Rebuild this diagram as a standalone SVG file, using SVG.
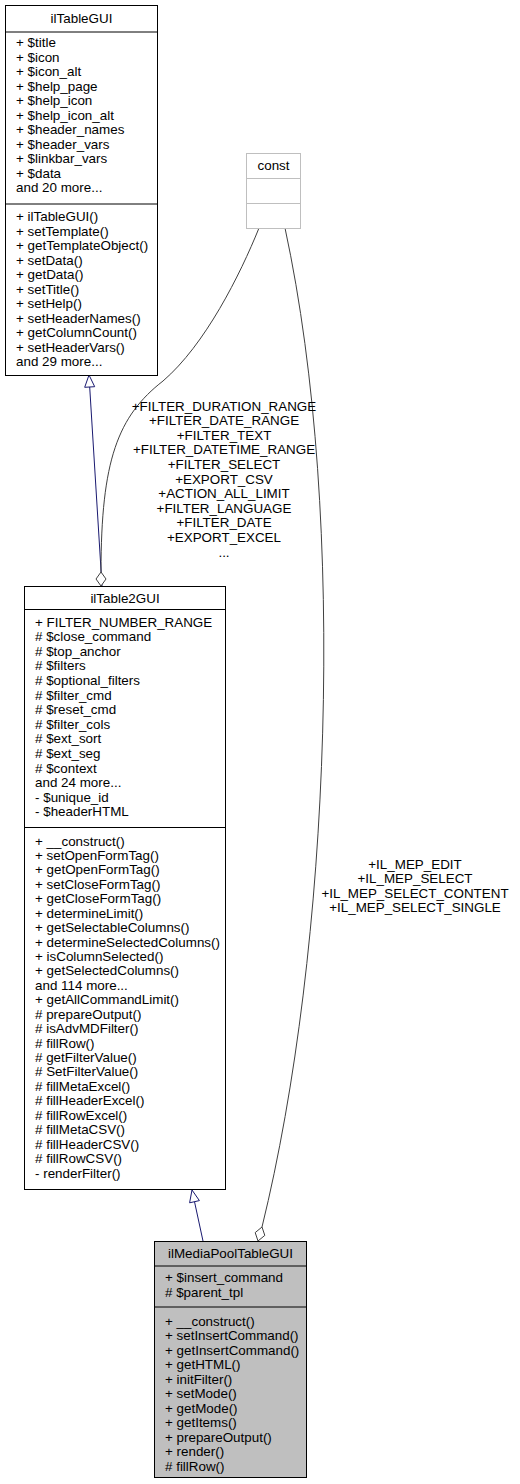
<svg xmlns="http://www.w3.org/2000/svg" width="520" height="1484" viewBox="0 0 520 1484">
<style>
text{font-family:"Liberation Sans",Arial,Helvetica,sans-serif;font-size:13.4px;fill:#000}
.c{text-anchor:middle}
.box{fill:#fff;stroke:#000;stroke-width:1}
.sep{stroke:#000;stroke-width:1}
.cbox{fill:#fff;stroke:#bfbfbf;stroke-width:1}
.csep{stroke:#bfbfbf;stroke-width:1}
.inh{fill:none;stroke:#191970;stroke-width:1}
.inhh{fill:#fff;stroke:#191970;stroke-width:1}
.agg{fill:none;stroke:#404040;stroke-width:1}
.aggh{fill:#fff;stroke:#404040;stroke-width:1}
</style>
<rect width="520" height="1484" fill="#fff"/>
<g id="connectors">
<path class="inh" d="M102,586 L89.7,387"/>
<polygon class="inhh" points="89,375 94.7,386.7 84.7,387.3"/>
<path class="inh" d="M203,1241 L194.5,1201.7"/>
<polygon class="inhh" points="192,1190 199.4,1200.6 189.6,1202.8"/>
<path class="agg" d="M259,228 C240,275 205,345 163,381 C118,416 101,460 101,572"/>
<polygon class="aggh" points="101,586 106,579 101,572 96,579"/>
<path class="agg" d="M285,228 C348,520 330,950 262,1227"/>
<polygon class="aggh" points="258,1241 264.8,1235.4 262,1227 255.2,1232.6"/>
<g id="label-const-table2">
<text class="c" x="224" y="410.5">+FILTER_DURATION_RANGE</text>
<text class="c" x="224" y="425.1">+FILTER_DATE_RANGE</text>
<text class="c" x="224" y="439.7">+FILTER_TEXT</text>
<text class="c" x="224" y="454.3">+FILTER_DATETIME_RANGE</text>
<text class="c" x="224" y="468.9">+FILTER_SELECT</text>
<text class="c" x="224" y="483.5">+EXPORT_CSV</text>
<text class="c" x="224" y="498.1">+ACTION_ALL_LIMIT</text>
<text class="c" x="224" y="512.7">+FILTER_LANGUAGE</text>
<text class="c" x="224" y="527.3">+FILTER_DATE</text>
<text class="c" x="224" y="541.9">+EXPORT_EXCEL</text>
<text class="c" x="224" y="556.5">...</text>
</g>
<g id="label-const-media">
<text class="c" x="415" y="868.5">+IL_MEP_EDIT</text>
<text class="c" x="415" y="883.1">+IL_MEP_SELECT</text>
<text class="c" x="415" y="897.7">+IL_MEP_SELECT_CONTENT</text>
<text class="c" x="415" y="912.3">+IL_MEP_SELECT_SINGLE</text>
</g>
</g>
<g id="ilTableGUI">
<rect class="box" x="5.5" y="5.5" width="152" height="370"/>
<text class="c" x="81.5" y="22.5">ilTableGUI</text>
<line class="sep" x1="5.5" y1="32" x2="157.5" y2="32"/>
<text x="16" y="47.2">+ $title</text>
<text x="16" y="61.7">+ $icon</text>
<text x="16" y="76.2">+ $icon_alt</text>
<text x="16" y="90.7">+ $help_page</text>
<text x="16" y="105.2">+ $help_icon</text>
<text x="16" y="119.7">+ $help_icon_alt</text>
<text x="16" y="134.2">+ $header_names</text>
<text x="16" y="148.7">+ $header_vars</text>
<text x="16" y="163.2">+ $linkbar_vars</text>
<text x="16" y="177.7">+ $data</text>
<text x="16" y="192.2">and 20 more...</text>
<line class="sep" x1="5.5" y1="204" x2="157.5" y2="204"/>
<text x="16" y="221.2">+ ilTableGUI()</text>
<text x="16" y="235.7">+ setTemplate()</text>
<text x="16" y="250.2">+ getTemplateObject()</text>
<text x="16" y="264.7">+ setData()</text>
<text x="16" y="279.2">+ getData()</text>
<text x="16" y="293.7">+ setTitle()</text>
<text x="16" y="308.2">+ setHelp()</text>
<text x="16" y="322.7">+ setHeaderNames()</text>
<text x="16" y="337.2">+ getColumnCount()</text>
<text x="16" y="351.7">+ setHeaderVars()</text>
<text x="16" y="366.2">and 29 more...</text>
</g>
<g id="const">
<rect class="cbox" x="246.5" y="153.5" width="54" height="75"/>
<text class="c" x="273.5" y="169.5">const</text>
<line class="csep" x1="246.5" y1="178.5" x2="300.5" y2="178.5"/>
<line class="csep" x1="246.5" y1="203.5" x2="300.5" y2="203.5"/>
</g>
<g id="ilTable2GUI">
<rect class="box" x="24.5" y="586.5" width="201" height="603"/>
<text class="c" x="125" y="603">ilTable2GUI</text>
<line class="sep" x1="24.5" y1="609.5" x2="225.5" y2="609.5"/>
<text x="35" y="626.5">+ FILTER_NUMBER_RANGE</text>
<text x="35" y="641.1"># $close_command</text>
<text x="35" y="655.7"># $top_anchor</text>
<text x="35" y="670.3"># $filters</text>
<text x="35" y="684.9"># $optional_filters</text>
<text x="35" y="699.5"># $filter_cmd</text>
<text x="35" y="714.1"># $reset_cmd</text>
<text x="35" y="728.7"># $filter_cols</text>
<text x="35" y="743.3"># $ext_sort</text>
<text x="35" y="757.9"># $ext_seg</text>
<text x="35" y="772.5"># $context</text>
<text x="35" y="787.1">and 24 more...</text>
<text x="35" y="801.7">- $unique_id</text>
<text x="35" y="816.3">- $headerHTML</text>
<line class="sep" x1="24.5" y1="827.5" x2="225.5" y2="827.5"/>
<text x="35" y="845.5">+ __construct()</text>
<text x="35" y="859.9">+ setOpenFormTag()</text>
<text x="35" y="874.4">+ getOpenFormTag()</text>
<text x="35" y="888.8">+ setCloseFormTag()</text>
<text x="35" y="903.2">+ getCloseFormTag()</text>
<text x="35" y="917.7">+ determineLimit()</text>
<text x="35" y="932.1">+ getSelectableColumns()</text>
<text x="35" y="946.5">+ determineSelectedColumns()</text>
<text x="35" y="960.9">+ isColumnSelected()</text>
<text x="35" y="975.4">+ getSelectedColumns()</text>
<text x="35" y="989.8">and 114 more...</text>
<text x="35" y="1004.2">+ getAllCommandLimit()</text>
<text x="35" y="1018.7"># prepareOutput()</text>
<text x="35" y="1033.1"># isAdvMDFilter()</text>
<text x="35" y="1047.5"># fillRow()</text>
<text x="35" y="1062.0"># getFilterValue()</text>
<text x="35" y="1076.4"># SetFilterValue()</text>
<text x="35" y="1090.8"># fillMetaExcel()</text>
<text x="35" y="1105.3"># fillHeaderExcel()</text>
<text x="35" y="1119.7"># fillRowExcel()</text>
<text x="35" y="1134.1"># fillMetaCSV()</text>
<text x="35" y="1148.6"># fillHeaderCSV()</text>
<text x="35" y="1163.0"># fillRowCSV()</text>
<text x="35" y="1177.5">- renderFilter()</text>
</g>
<g id="ilMediaPoolTableGUI">
<rect x="154.5" y="1241.5" width="152" height="236" fill="#bfbfbf" stroke="#000"/>
<text class="c" x="230.5" y="1258">ilMediaPoolTableGUI</text>
<line class="sep" x1="154.5" y1="1266" x2="306.5" y2="1266"/>
<text x="165" y="1282">+ $insert_command</text>
<text x="165" y="1296.5"># $parent_tpl</text>
<line class="sep" x1="154.5" y1="1307" x2="306.5" y2="1307"/>
<text x="165" y="1325.5">+ __construct()</text>
<text x="165" y="1340">+ setInsertCommand()</text>
<text x="165" y="1354.5">+ getInsertCommand()</text>
<text x="165" y="1369">+ getHTML()</text>
<text x="165" y="1383.5">+ initFilter()</text>
<text x="165" y="1398">+ setMode()</text>
<text x="165" y="1412.5">+ getMode()</text>
<text x="165" y="1427">+ getItems()</text>
<text x="165" y="1441.5">+ prepareOutput()</text>
<text x="165" y="1456">+ render()</text>
<text x="165" y="1470.5"># fillRow()</text>
</g>
</svg>
